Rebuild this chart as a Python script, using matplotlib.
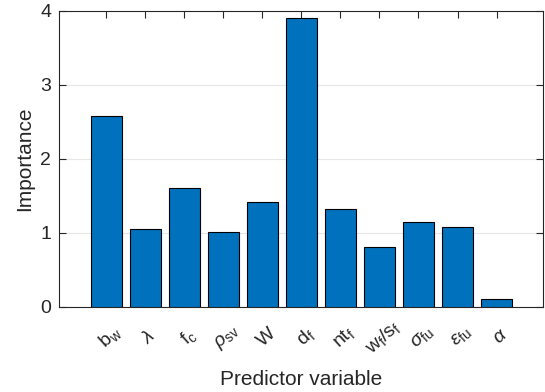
import matplotlib
matplotlib.use("Agg")
import matplotlib.pyplot as plt
import matplotlib.transforms as mtransforms
import numpy as np

plt.rcParams['font.family'] = ['Liberation Sans', 'DejaVu Sans']
plt.rcParams['mathtext.fontset'] = 'custom'
plt.rcParams['mathtext.rm'] = 'Liberation Sans'
plt.rcParams['mathtext.it'] = 'Liberation Sans:italic'
plt.rcParams['mathtext.sf'] = 'Liberation Sans'

labels = [r'b$_{\mathregular{w}}$', r'$\mathit{\lambda}$', r'f$_{\mathregular{c}}$',
          r'$\mathit{\rho}_{\mathregular{sv}}$', 'W', r'd$_{\mathregular{f}}$',
          r'nt$_{\mathregular{f}}$', r'w$_{\mathregular{f}}$/s$_{\mathregular{f}}$',
          r'$\mathit{\sigma}_{\mathregular{fu}}$', r'$\mathit{\epsilon}_{\mathregular{fu}}$',
          r'$\mathit{\alpha}$']
importance = [2.58, 1.05, 1.61, 1.01, 1.41, 3.91, 1.32, 0.80, 1.15, 1.07, 0.10]

fig = plt.figure(figsize=(5.45, 3.92), dpi=100)
ax = fig.add_axes([0.109, 0.218, 0.888, 0.754])
x = np.arange(1, len(importance) + 1)
ax.bar(x, importance, width=0.8, color='#0072BD', edgecolor='black', linewidth=0.8, zorder=3)
ax.set_xlim(-0.2, 12.2)
ax.set_ylim(0, 4)
ax.set_yticks([0, 1, 2, 3, 4])
ax.set_xticks(x)
ax.set_xticklabels(labels, rotation=42, ha='center', va='center', rotation_mode='anchor')
ax.yaxis.grid(True, color='#e6e6e6', linewidth=0.8, zorder=0)
ax.tick_params(direction='in', length=5, width=0.8, colors='#262626', labelsize=14,
               top=True, right=True)
ax.tick_params(axis='x', pad=22)
ax.tick_params(axis='y', pad=6)
offset = mtransforms.ScaledTranslation(4 / 100, 0, fig.dpi_scale_trans)
for lab in ax.get_xticklabels():
    lab.set_transform(lab.get_transform() + offset)
for s in ax.spines.values():
    s.set_color('#262626')
    s.set_linewidth(0.8)
ax.set_ylabel('Importance', fontsize=15, color='#262626', labelpad=4)
ax.set_xlabel('Predictor variable', fontsize=15, color='#262626', labelpad=9)
fig.savefig('out.png', dpi=100)
